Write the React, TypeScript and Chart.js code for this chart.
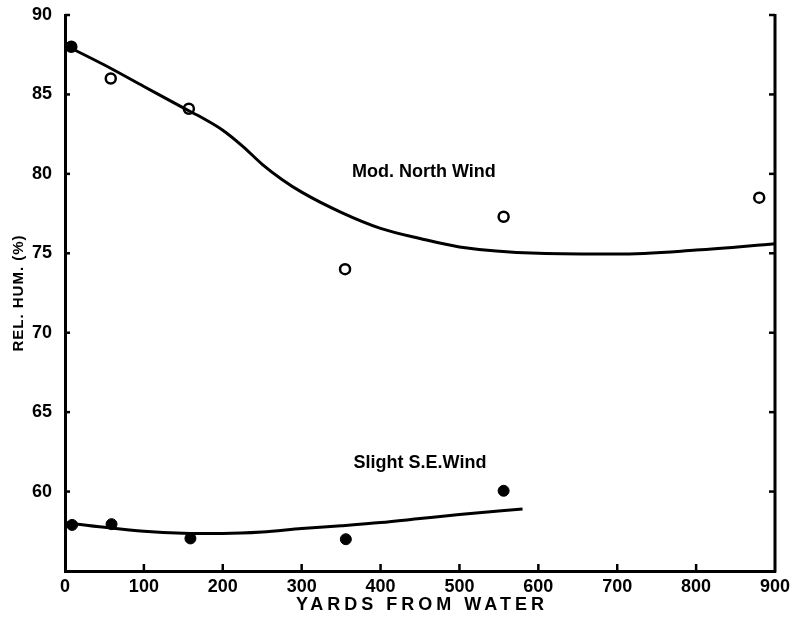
import React, { useEffect, useRef } from "react";
import { Chart, registerables } from "chart.js";

Chart.register(...registerables);

// Observed points
const northX = [8, 58, 157, 355, 556, 880];
const northY = [88.0, 86.0, 84.1, 74.0, 77.3, 78.5];
const seX = [9, 59, 159, 356, 556];
const seY = [57.9, 57.95, 57.05, 57.0, 60.05];

// Fitted curves
const northCurveX = [0, 50, 100, 150, 175, 200, 225, 250, 275, 300, 350, 400, 450, 500, 600, 700, 800, 900];
const northCurveY = [88.1, 86.85, 85.5, 84.15, 83.5, 82.75, 81.75, 80.6, 79.65, 78.85, 77.58, 76.57, 75.93, 75.4, 75.0, 74.95, 75.2, 75.6];
const seCurveX = [0, 50, 100, 150, 200, 250, 300, 350, 400, 450, 500, 580];
const seCurveY = [58.05, 57.75, 57.5, 57.38, 57.36, 57.45, 57.67, 57.85, 58.05, 58.3, 58.55, 58.9];

const xTicks = [0, 100, 200, 300, 400, 500, 600, 700, 800, 900];
const yTicks = [60, 65, 70, 75, 80, 85, 90];

const xTitle = "YARDS FROM WATER";
const yTitle = "REL. HUM. (%)";
const northLabel = "Mod. North Wind";
const seLabel = "Slight S.E.Wind";
const northLabelPos = [455, 80.1];
const seLabelPos = [450, 61.8];

const FONT = "'Liberation Sans', Arial, sans-serif";

const toPts = (xs: number[], ys: number[]) => xs.map((x, i) => ({ x, y: ys[i] }));

const framePlugin = {
  id: "frame",
  afterDraw(chart: any) {
    const { ctx, chartArea, scales } = chart;
    const xs = scales.x;
    const ys = scales.y;
    ctx.save();
    ctx.strokeStyle = "#000";
    ctx.lineWidth = 3;
    ctx.lineCap = "butt";
    // right axis
    ctx.beginPath();
    ctx.moveTo(chartArea.right, ys.getPixelForValue(90) - 1);
    ctx.lineTo(chartArea.right, chartArea.bottom + 1.5);
    ctx.stroke();
    ctx.lineWidth = 2.5;
    // left & right inward ticks
    yTicks.forEach((v) => {
      const py = ys.getPixelForValue(v);
      ctx.beginPath();
      ctx.moveTo(chartArea.left, py);
      ctx.lineTo(chartArea.left + 5, py);
      ctx.stroke();
      ctx.beginPath();
      ctx.moveTo(chartArea.right, py);
      ctx.lineTo(chartArea.right - 6, py);
      ctx.stroke();
    });
    // bottom inward ticks
    xTicks.forEach((v) => {
      if (v === 0 || v === 900) return;
      const px = xs.getPixelForValue(v);
      ctx.beginPath();
      ctx.moveTo(px, chartArea.bottom);
      ctx.lineTo(px, chartArea.bottom - 7);
      ctx.stroke();
    });
    // annotations
    ctx.fillStyle = "#000";
    ctx.textAlign = "center";
    ctx.textBaseline = "middle";
    ctx.font = `bold 18px ${FONT}`;
    ctx.fillText(northLabel, xs.getPixelForValue(northLabelPos[0]), ys.getPixelForValue(northLabelPos[1]));
    ctx.fillText(seLabel, xs.getPixelForValue(seLabelPos[0]), ys.getPixelForValue(seLabelPos[1]));
    // x title
    ctx.font = `bold 18px ${FONT}`;
    (ctx as any).letterSpacing = "4px";
    ctx.fillText(xTitle, (chartArea.left + chartArea.right) / 2 + 2, 605);
    // y title
    (ctx as any).letterSpacing = "1px";
    ctx.font = `bold 15px ${FONT}`;
    ctx.translate(19, (chartArea.top + chartArea.bottom) / 2);
    ctx.rotate(-Math.PI / 2);
    ctx.fillText(yTitle, 0, 0);
    ctx.restore();
  },
};

export default function App() {
  const ref = useRef<HTMLCanvasElement>(null);
  useEffect(() => {
    if (!ref.current) return;
    const chart = new Chart(ref.current, {
      type: "scatter",
      data: {
        datasets: [
          {
            label: "North curve",
            data: toPts(northCurveX, northCurveY),
            showLine: true,
            borderColor: "#000",
            borderWidth: 3,
            pointRadius: 0,
            cubicInterpolationMode: "monotone",
          },
          {
            label: northLabel,
            data: toPts(northX, northY),
            showLine: false,
            pointRadius: 5,
            pointBorderWidth: 2.5,
            pointBorderColor: "#000",
            pointBackgroundColor: northX.map((_, i) => (i === 0 ? "#000" : "#fff")),
          },
          {
            label: "SE curve",
            data: toPts(seCurveX, seCurveY),
            showLine: true,
            borderColor: "#000",
            borderWidth: 3,
            pointRadius: 0,
            cubicInterpolationMode: "monotone",
          },
          {
            label: seLabel,
            data: toPts(seX, seY),
            showLine: false,
            pointRadius: 5.5,
            pointBorderWidth: 1,
            pointBorderColor: "#000",
            pointBackgroundColor: "#000",
          },
        ],
      } as any,
      options: {
        animation: false,
        responsive: false,
        layout: { padding: { top: 15, right: 29, left: 0, bottom: 0 } },
        plugins: { legend: { display: false }, tooltip: { enabled: false } },
        scales: {
          x: {
            type: "linear",
            min: 0,
            max: 900,
            afterFit: (s: any) => {
              s.height = 48;
              s.paddingLeft = 0;
              s.paddingRight = 0;
            },
            afterBuildTicks: (s: any) => {
              s.ticks = xTicks.map((v) => ({ value: v }));
            },
            grid: { display: false, drawTicks: false },
            border: { display: true, color: "#000", width: 3 },
            ticks: {
              color: "#000",
              padding: 5,
              maxRotation: 0,
              font: { family: FONT, size: 18, weight: "bold" },
            },
          },
          y: {
            type: "linear",
            min: 55,
            max: 90,
            afterFit: (s: any) => {
              s.width = 65;
              s.paddingTop = 0;
              s.paddingBottom = 0;
            },
            afterBuildTicks: (s: any) => {
              s.ticks = yTicks.map((v) => ({ value: v }));
            },
            grid: { display: false, drawTicks: false },
            border: { display: true, color: "#000", width: 3 },
            ticks: {
              color: "#000",
              padding: 13,
              font: { family: FONT, size: 18, weight: "bold" },
            },
          },
        },
      } as any,
      plugins: [framePlugin],
    });
    return () => chart.destroy();
  }, []);
  return (
    <div style={{ position: "fixed", left: 0, top: 0, width: 804, height: 619, background: "#fff" }}>
      <canvas ref={ref} width={804} height={619} style={{ display: "block" }} />
    </div>
  );
}
